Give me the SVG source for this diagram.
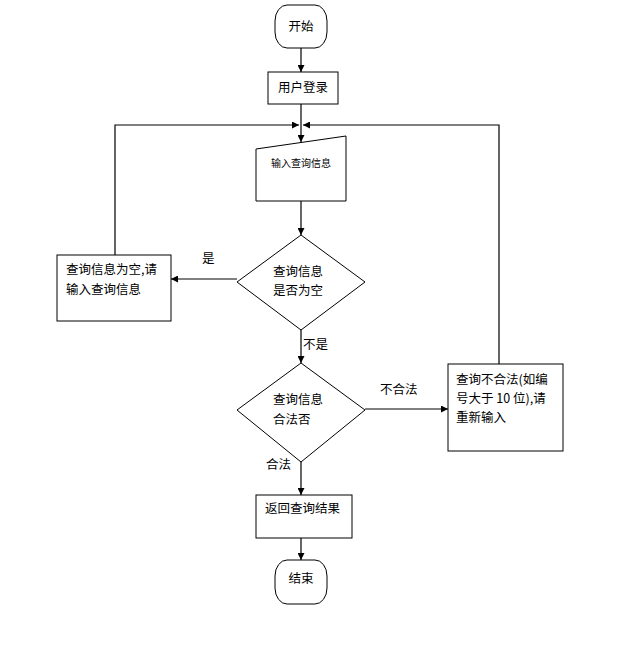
<svg xmlns="http://www.w3.org/2000/svg" width="637" height="658" viewBox="0 0 637 658">
<defs>
<marker id="ah" viewBox="0 0 10 10" refX="10" refY="5" markerWidth="7" markerHeight="7" markerUnits="userSpaceOnUse" orient="auto">
<path d="M0,0 L10,5 L0,10 z" fill="#000"/>
</marker>
</defs>
<style>
.s{fill:#fff;stroke:#000;stroke-width:1}
.c{fill:none;stroke:#000;stroke-width:1.2}
.t{font-family:"Noto Sans CJK SC","Noto Sans",sans-serif;font-size:12.5px;fill:#000}
.m{text-anchor:middle}
.sm{font-size:10px}
</style>
<rect width="637" height="658" fill="#fff"/>
<g id="connectors">
<line class="c" x1="301" y1="48" x2="301" y2="72" marker-end="url(#ah)"/>
<line class="c" x1="301" y1="104" x2="301" y2="142" marker-end="url(#ah)"/>
<polyline class="c" points="115,255 115,125 299,125" marker-end="url(#ah)"/>
<polyline class="c" points="499,364 499,125 303,125" marker-end="url(#ah)"/>
<line class="c" x1="301" y1="201" x2="301" y2="235" marker-end="url(#ah)"/>
<line class="c" x1="237" y1="279" x2="171" y2="279" marker-end="url(#ah)"/>
<line class="c" x1="301" y1="330" x2="301" y2="363" marker-end="url(#ah)"/>
<line class="c" x1="365" y1="409" x2="448" y2="409" marker-end="url(#ah)"/>
<line class="c" x1="301" y1="462" x2="301" y2="495" marker-end="url(#ah)"/>
<line class="c" x1="301" y1="538" x2="301" y2="560" marker-end="url(#ah)"/>
<text class="t" x="202" y="263">是</text>
<text class="t" x="303" y="349">不是</text>
<text class="t" x="380" y="394">不合法</text>
<text class="t" x="266" y="469">合法</text>
</g>
<g id="start">
<rect class="s" x="275" y="5" width="52" height="43" rx="12" ry="16"/>
<text class="t m" x="301" y="31">开始</text>
</g>
<g id="login">
<rect class="s" x="268" y="72" width="70" height="32"/>
<text class="t m" x="303" y="92">用户登录</text>
</g>
<g id="input">
<polygon class="s" points="256,149 346,136 346,201 256,201"/>
<text class="t m sm" x="301" y="167">输入查询信息</text>
</g>
<g id="empty">
<polygon class="s" points="301,235 365,282 301,330 237,282"/>
<text class="t" x="273" y="276">查询信息</text>
<text class="t" x="273" y="295">是否为空</text>
</g>
<g id="emptyMsg">
<rect class="s" x="57" y="255" width="114" height="66"/>
<text class="t" x="66" y="274">查询信息为空,请</text>
<text class="t" x="66" y="294">输入查询信息</text>
</g>
<g id="valid">
<polygon class="s" points="301,363 365,410 301,462 237,410"/>
<text class="t" x="273" y="404">查询信息</text>
<text class="t" x="273" y="424">合法否</text>
</g>
<g id="invalidMsg">
<rect class="s" x="448" y="364" width="115" height="87"/>
<text class="t" x="456" y="384">查询不合法(如编</text>
<text class="t" x="456" y="403">号大于 10 位),请</text>
<text class="t" x="456" y="422">重新输入</text>
</g>
<g id="result">
<rect class="s" x="256" y="495" width="96" height="43"/>
<text class="t" x="265" y="513">返回查询结果</text>
</g>
<g id="end">
<rect class="s" x="275" y="560" width="52" height="44" rx="12" ry="16"/>
<text class="t m" x="301" y="583">结束</text>
</g>
</svg>
